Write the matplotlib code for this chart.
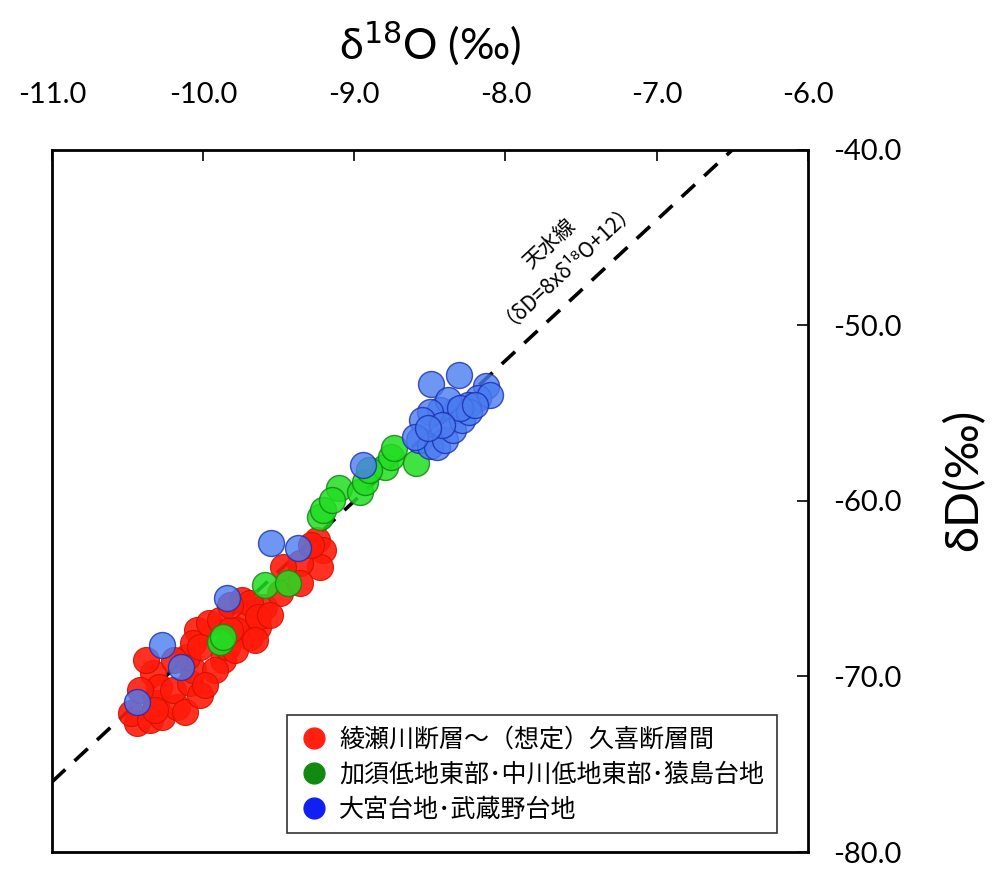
import matplotlib.pyplot as plt
import numpy as np
from matplotlib.lines import Line2D

plt.rcParams['font.family'] = ['Lato', 'Noto Sans CJK JP', 'DejaVu Sans']

# 綾瀬川断層～(想定)久喜断層間
red_x = [-10.44, -10.48, -10.35, -10.27, -10.31, -10.17, -10.33, -10.29, -10.20, -10.09,
         -10.07, -10.11, -10.04, -10.07, -9.96, -9.89, -9.87, -9.84, -9.74, -9.69,
         -9.64, -9.60, -9.69, -9.78, -10.02, -10.38, -9.25, -9.21, -9.23, -9.36,
         -9.47, -9.49, -9.36, -9.69, -9.64, -9.29, -10.12, -10.02, -9.92, -9.79,
         -9.66, -9.56, -9.99, -10.19, -10.42, -10.32, -9.82, -9.82]
red_y = [-72.65, -72.08, -72.48, -72.31, -71.51, -71.74, -69.80, -70.60, -70.77, -70.37,
         -69.63, -68.89, -67.35, -68.09, -66.95, -66.78, -69.06, -68.32, -65.64, -66.38,
         -67.18, -66.04, -67.75, -67.35, -68.32, -69.06, -62.22, -62.79, -63.76, -63.53,
         -63.76, -65.24, -64.67, -65.81, -66.61, -62.51, -72.02, -71.05, -69.63, -68.49,
         -67.92, -66.50, -70.48, -69.06, -70.77, -71.91, -67.35, -65.92]

# 加須低地東部・中川低地東部・猿島台地
green_x = [-9.89, -9.87, -9.59, -9.44, -9.23, -9.21, -9.10, -8.96, -8.93, -8.80,
           -8.76, -8.74, -8.59, -9.15, -8.90]
green_y = [-68.03, -67.75, -64.79, -64.67, -60.91, -60.51, -59.26, -59.49, -58.92, -58.06,
           -57.49, -56.98, -57.83, -59.94, -58.23]

# 大宮台地・武蔵野台地
blue_x = [-10.44, -10.27, -10.15, -9.84, -9.55, -9.37, -8.94, -8.49, -8.31, -8.13,
          -8.18, -8.25, -8.33, -8.43, -8.38, -8.50, -8.55, -8.57, -8.50, -8.45,
          -8.40, -8.35, -8.29, -8.24, -8.10, -8.60, -8.30, -8.20, -8.42, -8.51]
blue_y = [-71.45, -68.20, -69.46, -65.53, -62.39, -62.68, -57.95, -53.33, -52.82, -53.45,
          -54.13, -54.53, -54.81, -54.81, -54.25, -54.93, -55.38, -56.52, -56.87, -56.92,
          -56.52, -55.95, -55.38, -54.93, -53.96, -56.35, -54.70, -54.53, -55.67, -55.84]

labels = ['綾瀬川断層～（想定）久喜断層間', '加須低地東部･中川低地東部･猿島台地', '大宮台地･武蔵野台地']

fig = plt.figure(figsize=(9.97, 8.77), dpi=100)
ax = fig.add_axes([0.0522, 0.0285, 0.758, 0.8005])

# meteoric water line: δD = 8 x δ18O + 12
line_x = np.array([-11.0, -6.0])
ax.plot(line_x, 8 * line_x + 12, color='black', lw=2.6, linestyle=(0, (5, 3.5)), zorder=1)

ms = 350
ax.scatter(red_x, red_y, s=ms, color='#ff1a0a', edgecolors='#d01000', linewidths=0.8,
           alpha=0.9, zorder=2)
ax.scatter(green_x, green_y, s=ms, color='#22dd22', edgecolors='#118811', linewidths=1.0,
           alpha=0.85, zorder=3)
ax.scatter(blue_x, blue_y, s=ms, color='#4a7cf0', edgecolors='#1a2cb0', linewidths=1.0,
           alpha=0.8, zorder=4)

ax.set_xlim(-11, -6)
ax.set_ylim(-80, -40)
ax.set_xticks(np.arange(-11, -5.5, 1.0))
ax.set_yticks(np.arange(-80, -35, 10.0))
ax.xaxis.set_major_formatter(plt.FormatStrFormatter('%.1f'))
ax.yaxis.set_major_formatter(plt.FormatStrFormatter('%.1f'))
ax.tick_params(axis='x', which='both', top=True, bottom=False, labeltop=True, labelbottom=False,
               direction='in', length=8, width=1.2, labelsize=21, pad=30, colors='black')
ax.tick_params(axis='y', which='both', right=True, left=False, labelright=True, labelleft=False,
               direction='in', length=8, width=1.2, labelsize=21, pad=18, colors='black')
for sp in ax.spines.values():
    sp.set_linewidth(2)

ax.xaxis.set_label_position('top')
ax.yaxis.set_label_position('right')
ax.set_xlabel(r'δ$^{18}$O (‰)', fontsize=31, labelpad=16)
ax.set_ylabel('δD(‰)', fontsize=34)
ax.yaxis.set_label_coords(1.207, 0.53)
ax.yaxis.label.set_va('center')
ax.yaxis.label.set_ha('center')

ax.text(-7.66, -45.8, '天水線\n（δD=8xδ¹⁸O+12）', fontsize=15, rotation=43,
        rotation_mode='anchor', ha='center', va='center', multialignment='center',
        linespacing=0.95, family=['Noto Sans CJK JP', 'DejaVu Sans'])

handles = [Line2D([], [], marker='o', linestyle='none', markersize=15, color=c, markeredgecolor=c)
           for c in ['#ff2010', '#108a10', '#1020f0']]
leg = ax.legend(handles, labels, loc='lower right', bbox_to_anchor=(0.959, 0.027),
                borderaxespad=0, fontsize=18, fancybox=False, edgecolor='#333333',
                framealpha=1, handletextpad=0.4, labelspacing=0.45, borderpad=0.5,
                handlelength=1.2)
leg.get_frame().set_linewidth(1.2)

fig.savefig('out.png', dpi=100)
